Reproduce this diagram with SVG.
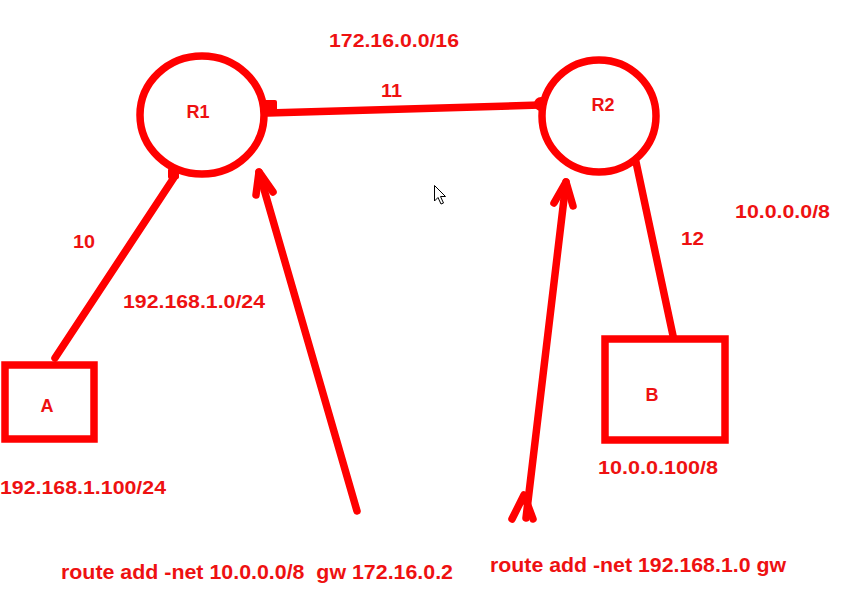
<svg xmlns="http://www.w3.org/2000/svg" width="866" height="598" viewBox="0 0 866 598">
<style>
.ln{stroke:#ff0000;stroke-width:7.5;fill:none;stroke-linecap:round;stroke-linejoin:round}
.shape{stroke:#ff0000;stroke-width:7.5;fill:#ffffff}
.t{font-family:"Liberation Sans",Arial,sans-serif;font-weight:bold;fill:#ee1111}
.s18{font-size:18px}
.s19{font-size:19px}
.s21{font-size:21px}
.c{text-anchor:middle}
</style>
<rect width="866" height="598" fill="#ffffff"/>
<g id="connectors">
<path class="ln" d="M268 113 L540 105"/>
<path class="ln" d="M55 358 L175 176"/>
<path class="ln" d="M636 162 L675 345"/>
<rect x="264" y="100" width="13" height="13" rx="2" fill="#ff0000"/>
<circle cx="541" cy="104" r="7" fill="#ff0000"/>
<rect x="168" y="168" width="11" height="11" rx="2" fill="#ff0000"/>
<g id="arrow1">
<path class="ln" d="M357 511 L259 172"/>
<path class="ln" d="M256 195 L259 172 L273 192"/>
</g>
<g id="arrow2">
<path class="ln" d="M526 518 L566 182"/>
<path class="ln" d="M554 203 L566 182 L573 206"/>
<path class="ln" d="M512 519 L524 495 L533 519"/>
</g>
</g>
<g id="R1">
<ellipse class="shape" cx="202" cy="115" rx="62" ry="59"/>
<text class="t s18 c" x="198" y="118">R1</text>
</g>
<g id="R2">
<ellipse class="shape" cx="599" cy="116" rx="57" ry="56"/>
<text class="t s18 c" x="603" y="111">R2</text>
</g>
<g id="A">
<rect class="shape" x="5" y="365" width="89" height="74"/>
<text class="t s18 c" x="47" y="412">A</text>
</g>
<g id="B">
<rect class="shape" x="605" y="339" width="120" height="101"/>
<text class="t s18 c" x="652" y="401">B</text>
</g>
<g id="labels">
<text class="t s19" x="329" y="47" textLength="130" lengthAdjust="spacingAndGlyphs">172.16.0.0/16</text>
<text class="t s19" x="381" y="97" textLength="21" lengthAdjust="spacingAndGlyphs">11</text>
<text class="t s19" x="73" y="248" textLength="22" lengthAdjust="spacingAndGlyphs">10</text>
<text class="t s19" x="123" y="308" textLength="142" lengthAdjust="spacingAndGlyphs">192.168.1.0/24</text>
<text class="t s19" x="681" y="245" textLength="23" lengthAdjust="spacingAndGlyphs">12</text>
<text class="t s19" x="735" y="218" textLength="95" lengthAdjust="spacingAndGlyphs">10.0.0.0/8</text>
<text class="t s19" x="0" y="494" textLength="166" lengthAdjust="spacingAndGlyphs">192.168.1.100/24</text>
<text class="t s19" x="598" y="474" textLength="120" lengthAdjust="spacingAndGlyphs">10.0.0.100/8</text>
<text class="t s21" x="61" y="579" textLength="392" lengthAdjust="spacingAndGlyphs" xml:space="preserve">route add -net 10.0.0.0/8  gw 172.16.0.2</text>
<text class="t s21" x="490" y="572" textLength="296" lengthAdjust="spacingAndGlyphs">route add -net 192.168.1.0 gw</text>
</g>
<path d="M434.5 185.5 L434.5 201 L438 197.5 L441 204 L443.5 203 L440.5 196.5 L445.5 196.5 Z" fill="#ffffff" stroke="#000000" stroke-width="1"/>
</svg>
